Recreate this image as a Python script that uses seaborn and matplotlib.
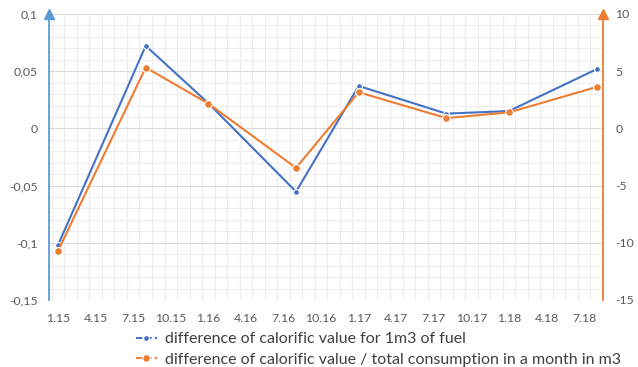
import matplotlib
matplotlib.use("Agg")
import matplotlib.pyplot as plt
from matplotlib.lines import Line2D
from matplotlib.ticker import FixedLocator, MultipleLocator, FuncFormatter
import numpy as np
import pandas as pd
import seaborn as sns

# month.year periods of the measurements
periods = ["1.15", "8.15", "1.16", "8.16", "1.17", "8.17", "1.18", "8.18"]
# difference of calorific value for 1 m3 of fuel (left axis)
calorific_diff = [-0.102, 0.0722, 0.022, -0.0553, 0.0371, 0.0129, 0.0152, 0.0518]
# difference of calorific value / total monthly consumption in m3 (right axis)
consumption_ratio = [-10.7, 5.32, 2.17, -3.45, 3.16, 0.9, 1.4, 3.62]
# labels along the time axis
tick_labels = ["1.15", "4.15", "7.15", "10.15", "1.16", "4.16", "7.16", "10.16",
               "1.17", "4.17", "7.17", "10.17", "1.18", "4.18", "7.18"]

label_blue = "difference of calorific value for 1m3 of fuel"
label_orange = "difference of calorific value / total consumption in a month in m3"


def month_index(s):
    m, y = s.split(".")
    return (int(y) - 15) * 12 + int(m) - 1


df = pd.DataFrame({
    "month": [month_index(p) for p in periods],
    "calorific": calorific_diff,
    "ratio": consumption_ratio,
})

sns.set_theme(style="white")
plt.rcParams["font.family"] = ["Lato", "DejaVu Sans"]

BLUE = "#4472C4"
ORANGE = "#ED7D31"
AXIS_BLUE = "#5B9BD5"
TEXT = "#595959"

fig = plt.figure(figsize=(6.38, 3.67), dpi=100)
ax = fig.add_axes([49 / 638, 1 - 300 / 367, (603 - 49) / 638, (300 - 14) / 367])
ax2 = ax.twinx()

sns.lineplot(data=df, x="month", y="calorific", ax=ax, color=BLUE, lw=1.5,
             marker="o", markersize=4.2, markeredgecolor="white", markeredgewidth=0.8,
             zorder=4)
sns.lineplot(data=df, x="month", y="ratio", ax=ax2, color=ORANGE, lw=1.5,
             marker="o", markersize=5.5, markeredgecolor="white", markeredgewidth=0.8,
             zorder=4)

ax.set_xlim(-0.72, 43.5)
ax.set_ylim(-0.15, 0.1)
ax2.set_ylim(-15, 10)

ax.set_yticks(np.arange(-0.15, 0.1001, 0.05))
ax.yaxis.set_minor_locator(MultipleLocator(0.01))
ax.yaxis.set_major_formatter(FuncFormatter(
    lambda v, _: "0" if abs(v) < 1e-9 else f"{v:g}".replace(".", ",")))
ax2.set_yticks(np.arange(-15, 10.1, 5))
ax2.yaxis.set_major_formatter(FuncFormatter(lambda v, _: f"{v:g}"))

# labels sit on the months, grid lines on month boundaries
ax.set_xticks([month_index(t) for t in tick_labels])
ax.set_xticklabels(tick_labels)
last = month_index(tick_labels[-1])
ax.xaxis.set_minor_locator(FixedLocator(np.arange(-0.5, last + 2, 1.0)))

for v in np.arange(-0.5, last + 2, 3.0):
    ax.axvline(v, color="#DADADA", lw=0.8, zorder=0)
for v in np.arange(-0.5, last + 2, 1.0):
    ax.axvline(v, color="#EEEEEE", lw=0.8, zorder=0)
ax.grid(False)
ax2.grid(False)
ax.grid(axis="y", which="minor", color="#EEEEEE", lw=0.8)
ax.grid(axis="y", which="major", color="#DADADA", lw=0.8)
ax.set_axisbelow(True)

ax.set_xlabel("")
ax.set_ylabel("")
ax2.set_ylabel("")

for a in (ax, ax2):
    a.spines["top"].set_visible(False)
    a.spines["bottom"].set_visible(False)
ax.spines["right"].set_visible(False)
ax.spines["left"].set_visible(False)
ax2.spines["left"].set_color(AXIS_BLUE)
ax2.spines["left"].set_visible(True)
ax2.spines["left"].set_linewidth(1.3)
ax2.spines["right"].set_color(ORANGE)
ax2.spines["right"].set_linewidth(1.3)

ax.tick_params(axis="both", which="both", length=0, colors=TEXT, labelsize=8.8)
ax.tick_params(axis="y", pad=8)
ax.tick_params(axis="x", pad=9)
ax2.tick_params(axis="y", which="both", length=0, colors=TEXT, labelsize=8.8, pad=9)

# arrow heads on both value axes
ax2.plot([0], [1.0], transform=ax2.transAxes, marker="^", markersize=7,
         color=AXIS_BLUE, clip_on=False, zorder=6)
ax2.plot([1], [1.0], transform=ax2.transAxes, marker="^", markersize=7,
         color=ORANGE, clip_on=False, zorder=6)

handles = [
    Line2D([], [], color=BLUE, lw=1.5, ls=(0, (3, 1.5)), marker="o", markersize=4.2,
           markeredgecolor="white", markeredgewidth=0.8),
    Line2D([], [], color=ORANGE, lw=1.5, ls=(0, (3, 1.5)), marker="o", markersize=5.5,
           markeredgecolor="white", markeredgewidth=0.8),
]
fig.legend(handles, [label_blue, label_orange], loc="upper left",
           bbox_to_anchor=(136 / 638, 1 - 332 / 367), frameon=False,
           fontsize=11.5, labelcolor="#404040", handlelength=1.3, handletextpad=0.5,
           labelspacing=0.42, borderpad=0, borderaxespad=0)

fig.savefig("out.png", dpi=100)
